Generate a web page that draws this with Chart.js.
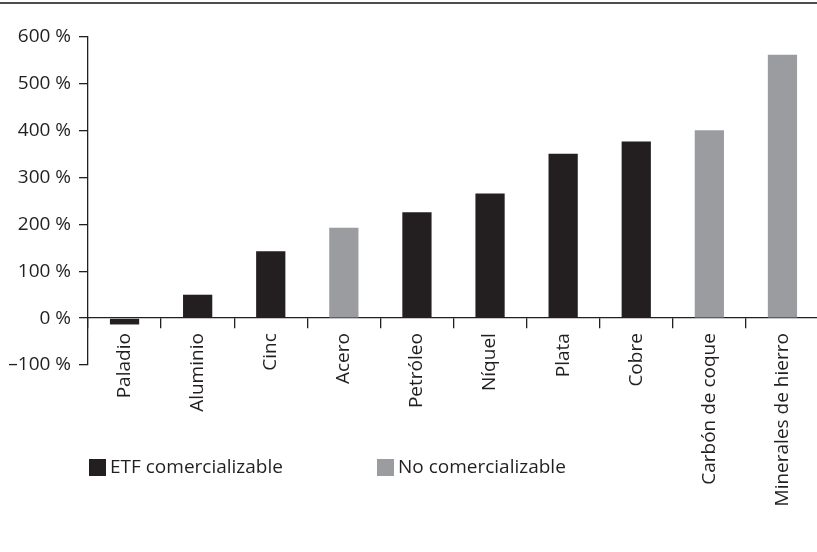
<!DOCTYPE html>
<html>
<head>
<meta charset="utf-8">
<script src="https://cdn.jsdelivr.net/npm/chart.js@4"></script>
<style>
  html, body { margin: 0; padding: 0; background: #fff; overflow: hidden; }
  #wrap { position: relative; width: 820px; height: 552px; }
</style>
</head>
<body>
<div id="wrap"><canvas id="c" width="820" height="552"></canvas></div>
<script>
// Commodities and their percentage change
const categories = ['Paladio', 'Aluminio', 'Cinc', 'Acero', 'Petróleo', 'Níquel', 'Plata', 'Cobre', 'Carbón de coque', 'Minerales de hierro'];
const etfValues   = [-13.5, 50, 143, null, 226, 266, 351, 377, null, null];
const otherValues = [null, null, null, 193, null, null, null, null, 401, 562];
const seriesNames = ['ETF comercializable', 'No comercializable'];
const yTicks = [-100, 0, 100, 200, 300, 400, 500, 600];

const INK = '#231f20';
const GREY = '#9b9c9f';
const FONT = { family: '"Open Sans", sans-serif', size: 19 };

const fmtPct = v => (v < 0 ? '\u2013' + Math.abs(v) : String(v)) + ' %';

// Top rule and the legend row under the plot
const decorations = {
  id: 'decorations',
  afterDraw(chart) {
    const ctx = chart.ctx;
    ctx.save();
    ctx.fillStyle = '#4d4d4f';
    ctx.fillRect(0, 2, 817, 2);
    const xs = [89, 377];
    const top = 459, box = 17;
    ctx.font = '19px "Open Sans", sans-serif';
    ctx.textBaseline = 'middle';
    ctx.textAlign = 'left';
    chart.data.datasets.forEach((ds, i) => {
      ctx.fillStyle = ds.backgroundColor;
      ctx.fillRect(xs[i], top, box, box);
      ctx.fillStyle = INK;
      ctx.fillText(ds.label, xs[i] + box + 4, top + box / 2);
    });
    ctx.restore();
  }
};

new Chart(document.getElementById('c'), {
  type: 'bar',
  data: {
    labels: categories,
    datasets: [
      { label: seriesNames[0], data: etfValues, backgroundColor: INK },
      { label: seriesNames[1], data: otherValues, backgroundColor: GREY }
    ]
  },
  options: {
    responsive: false,
    animation: false,
    skipNull: true,
    barPercentage: 0.4,
    categoryPercentage: 1,
    layout: { padding: { top: 37, left: 0, right: 1, bottom: 187 } },
    plugins: { legend: { display: false }, tooltip: { enabled: false } },
    scales: {
      x: {
        position: { y: 0 },
        offset: true,
        grid: { display: true, drawOnChartArea: false, drawTicks: true, tickLength: 10, tickColor: INK, lineWidth: 1.3, offset: true },
        border: { display: true, color: INK, width: 1.3 },
        ticks: { color: INK, font: FONT, minRotation: 90, maxRotation: 90, padding: 5, autoSkip: false },
        afterFit(s) { s.height = 0; s.paddingLeft = 0; s.paddingRight = 0; }
      },
      y: {
        min: -100,
        max: 600,
        afterBuildTicks(s) { s.ticks = yTicks.map(v => ({ value: v })); },
        grid: { drawOnChartArea: false, drawTicks: true, tickLength: 9, tickColor: INK, lineWidth: 1.3 },
        border: { display: true, color: INK, width: 1.3 },
        ticks: { color: INK, font: FONT, padding: 8, callback: v => fmtPct(v) },
        afterFit(s) { s.width = 88; s.paddingTop = 0; s.paddingBottom = 0; }
      }
    }
  },
  plugins: [decorations]
});
</script>
</body>
</html>
